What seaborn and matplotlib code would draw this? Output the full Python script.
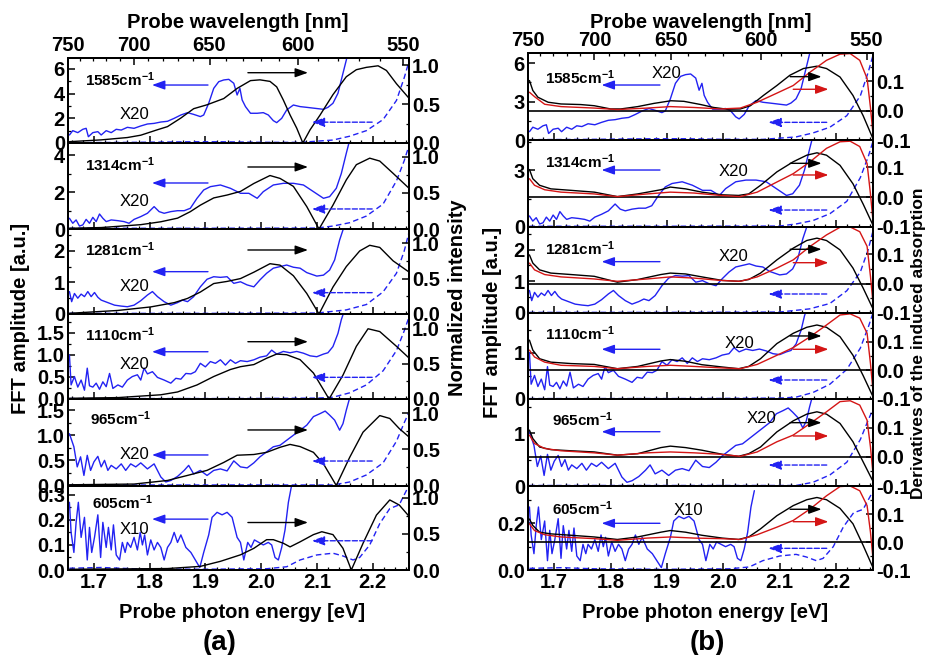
import numpy as np
import matplotlib
matplotlib.use("Agg")
import matplotlib.pyplot as plt
import seaborn as sns
from matplotlib.ticker import FixedLocator, MultipleLocator, FormatStrFormatter

# ---------------------------------------------------------------- data
MODES = ["1585", "1314", "1281", "1110", "965", "605"]
SCALE_TEXT = ["X20", "X20", "X20", "X20", "X20", "X10"]

# FFT amplitude (magnified x20 / x10), probe photon energy in eV
FFT_E_1585 = [1.656, 1.662, 1.671, 1.680, 1.686, 1.690, 1.698, 1.707, 1.713, 1.722,
              1.731, 1.740, 1.749, 1.760, 1.772, 1.784, 1.796, 1.808, 1.820, 1.832,
              1.844, 1.856, 1.868, 1.879, 1.891, 1.897, 1.906, 1.915, 1.924, 1.933,
              1.942, 1.951, 1.957, 1.962, 1.966, 1.972, 1.981, 1.993, 2.004, 2.013,
              2.022, 2.028, 2.037, 2.046, 2.058, 2.070, 2.082, 2.097, 2.112, 2.120,
              2.129, 2.138, 2.147, 2.156]
FFT_V_1585 = [0.65, 1.00, 0.84, 1.11, 1.19, 0.51, 0.84, 0.92, 0.65, 1.00,
              0.84, 1.11, 1.05, 1.27, 1.19, 1.38, 1.54, 1.59, 1.70, 1.76,
              2.00, 2.27, 2.46, 2.32, 2.14, 2.27, 3.22, 4.43, 4.97, 5.11,
              5.16, 4.84, 3.89, 4.43, 3.49, 2.95, 2.41, 2.41, 2.46, 2.27,
              1.81, 1.65, 2.00, 2.68, 3.08, 2.95, 2.89, 2.81, 2.73, 2.89,
              3.22, 4.03, 5.65, 7.27]

FFT_E_1314 = [1.656, 1.662, 1.668, 1.674, 1.680, 1.686, 1.692, 1.698, 1.704, 1.710,
              1.716, 1.722, 1.731, 1.743, 1.754, 1.763, 1.772, 1.784, 1.796, 1.808,
              1.817, 1.826, 1.838, 1.850, 1.862, 1.873, 1.885, 1.897, 1.909, 1.927,
              1.945, 1.963, 1.978, 1.993, 2.004, 2.022, 2.040, 2.058, 2.076, 2.094,
              2.112, 2.123, 2.135, 2.144, 2.153, 2.159]
FFT_V_1314 = [0.58, 0.31, 0.49, 0.16, 0.22, 0.52, 0.31, 0.63, 0.40, 0.81,
              0.58, 0.40, 0.49, 0.45, 0.40, 0.31, 0.52, 0.67, 0.85, 1.21,
              0.94, 0.85, 0.94, 0.99, 0.99, 1.12, 1.66, 2.11, 2.29, 2.38,
              2.20, 1.93, 1.93, 1.66, 2.02, 2.38, 2.47, 2.47, 2.38, 2.02,
              1.66, 1.75, 2.20, 3.00, 4.10, 4.80]

FFT_E_1281 = [1.656, 1.660, 1.665, 1.671, 1.677, 1.683, 1.689, 1.695, 1.701, 1.707,
              1.713, 1.725, 1.737, 1.749, 1.760, 1.772, 1.784, 1.796, 1.805, 1.814,
              1.826, 1.838, 1.850, 1.859, 1.868, 1.879, 1.891, 1.903, 1.915, 1.927,
              1.939, 1.951, 1.963, 1.975, 1.987, 1.998, 2.010, 2.022, 2.034, 2.046,
              2.058, 2.070, 2.082, 2.100, 2.112, 2.123, 2.132, 2.141, 2.150]
FFT_V_1281 = [0.71, 0.39, 0.65, 0.50, 0.63, 0.55, 0.71, 0.55, 0.68, 0.53,
              0.44, 0.36, 0.28, 0.25, 0.23, 0.28, 0.42, 0.60, 0.71, 0.55,
              0.39, 0.28, 0.36, 0.44, 0.39, 0.55, 0.86, 1.10, 1.18, 1.16,
              1.18, 0.97, 1.02, 0.92, 0.86, 1.08, 1.29, 1.45, 1.50, 1.55,
              1.48, 1.45, 1.31, 1.20, 1.23, 1.39, 1.71, 2.34, 2.82]

FFT_E_1110 = [1.656, 1.659, 1.665, 1.671, 1.677, 1.683, 1.688, 1.692, 1.698, 1.704,
              1.710, 1.716, 1.722, 1.728, 1.734, 1.743, 1.751, 1.760, 1.769, 1.778,
              1.784, 1.790, 1.796, 1.805, 1.814, 1.826, 1.838, 1.847, 1.856, 1.865,
              1.874, 1.882, 1.891, 1.900, 1.909, 1.918, 1.927, 1.936, 1.945, 1.954,
              1.963, 1.975, 1.987, 1.998, 2.010, 2.019, 2.028, 2.040, 2.052, 2.064,
              2.076, 2.088, 2.100, 2.112, 2.120, 2.129, 2.138, 2.144, 2.148]
FFT_V_1110 = [1.00, 0.32, 0.51, 0.27, 0.43, 0.20, 0.70, 0.30, 0.27, 0.36,
              0.22, 0.39, 0.28, 0.58, 0.24, 0.32, 0.27, 0.43, 0.51, 0.55,
              0.43, 0.70, 0.57, 0.62, 0.49, 0.43, 0.36, 0.47, 0.45, 0.58,
              0.57, 0.62, 0.81, 0.73, 0.85, 0.81, 0.89, 0.77, 0.89, 0.81,
              0.87, 0.85, 0.89, 0.95, 0.98, 1.11, 1.02, 1.08, 1.05, 1.08,
              1.04, 0.98, 0.96, 1.02, 1.05, 1.19, 1.49, 1.80, 1.95]

FFT_E_965 = [1.656, 1.664, 1.670, 1.676, 1.682, 1.688, 1.694, 1.700, 1.707, 1.713,
             1.719, 1.725, 1.731, 1.740, 1.749, 1.757, 1.766, 1.775, 1.784, 1.796,
             1.808, 1.820, 1.829, 1.838, 1.850, 1.862, 1.870, 1.879, 1.891, 1.903,
             1.915, 1.927, 1.939, 1.951, 1.963, 1.975, 1.987, 1.998, 2.010, 2.022,
             2.034, 2.046, 2.058, 2.070, 2.082, 2.094, 2.106, 2.115, 2.123, 2.132,
             2.141, 2.147, 2.153, 2.158]
FFT_V_965 = [1.03, 0.77, 0.37, 0.57, 0.20, 0.60, 0.30, 0.47, 0.58, 0.37,
             0.50, 0.30, 0.40, 0.33, 0.43, 0.30, 0.43, 0.37, 0.45, 0.33,
             0.43, 0.17, 0.07, 0.10, 0.18, 0.30, 0.40, 0.23, 0.30, 0.20,
             0.30, 0.33, 0.29, 0.49, 0.37, 0.35, 0.45, 0.57, 0.67, 0.77,
             0.80, 0.90, 1.00, 1.10, 1.20, 1.37, 1.43, 1.48, 1.40, 1.30,
             1.10, 1.23, 1.50, 1.70]

FFT_E_605 = [1.656, 1.659, 1.664, 1.668, 1.672, 1.677, 1.683, 1.688, 1.692, 1.696,
             1.701, 1.707, 1.712, 1.716, 1.722, 1.726, 1.731, 1.735, 1.740, 1.746,
             1.751, 1.756, 1.760, 1.766, 1.772, 1.778, 1.783, 1.787, 1.791, 1.796,
             1.802, 1.808, 1.814, 1.820, 1.826, 1.832, 1.838, 1.844, 1.850, 1.856,
             1.865, 1.874, 1.882, 1.890, 1.897, 1.906, 1.912, 1.921, 1.930, 1.939,
             1.948, 1.957, 1.963, 1.969, 1.976, 1.982, 1.988, 1.996, 2.004, 2.013,
             2.019, 2.025, 2.031, 2.037, 2.043, 2.049, 2.055]
FFT_V_605 = [0.27, 0.15, 0.07, 0.19, 0.27, 0.13, 0.21, 0.04, 0.17, 0.07,
             0.13, 0.22, 0.05, 0.19, 0.09, 0.17, 0.08, 0.18, 0.06, 0.04,
             0.11, 0.07, 0.11, 0.09, 0.13, 0.08, 0.15, 0.10, 0.14, 0.06,
             0.12, 0.08, 0.11, 0.09, 0.04, 0.09, 0.11, 0.15, 0.11, 0.14,
             0.09, 0.07, 0.04, 0.01, 0.07, 0.14, 0.21, 0.23, 0.22, 0.23,
             0.21, 0.13, 0.11, 0.04, 0.11, 0.09, 0.12, 0.11, 0.10, 0.11,
             0.10, 0.05, 0.04, 0.09, 0.16, 0.27, 0.34]

# FFT amplitude, unscaled (dashed)
RAW_E_1585 = [1.656, 1.760, 1.880, 1.930, 1.990, 2.070, 2.129, 2.159, 2.189, 2.219, 2.243, 2.257, 2.266]
RAW_V_1585 = [0.03, 0.05, 0.10, 0.10, 0.06, 0.05, 0.24, 0.55, 1.00, 1.90, 3.45, 5.30, 6.70]
RAW_E_1314 = [1.656, 1.900, 2.100, 2.129, 2.159, 2.189, 2.219, 2.243, 2.257, 2.266]
RAW_V_1314 = [0.04, 0.04, 0.05, 0.16, 0.34, 0.70, 1.35, 2.60, 3.70, 4.56]
RAW_E_1281 = [1.656, 1.900, 2.100, 2.153, 2.189, 2.219, 2.243, 2.257, 2.266]
RAW_V_1281 = [0.02, 0.02, 0.03, 0.13, 0.30, 0.70, 1.29, 2.00, 2.62]
RAW_E_1110 = [1.656, 1.950, 2.100, 2.129, 2.159, 2.189, 2.219, 2.243, 2.257, 2.266]
RAW_V_1110 = [0.01, 0.01, 0.02, 0.04, 0.14, 0.32, 0.64, 1.10, 1.55, 1.88]
RAW_E_965 = [1.656, 2.000, 2.129, 2.159, 2.189, 2.219, 2.243, 2.257, 2.266]
RAW_V_965 = [0.01, 0.01, 0.01, 0.07, 0.21, 0.45, 0.88, 1.25, 1.47]
RAW_E_605 = [1.656, 1.713, 1.772, 1.891, 2.010, 2.046, 2.070, 2.100, 2.129, 2.147,
             2.165, 2.177, 2.195, 2.213, 2.231, 2.248, 2.266]
RAW_V_605 = [0.007, 0.010, 0.005, 0.003, 0.005, 0.013, 0.040, 0.060, 0.067, 0.056,
             0.040, 0.050, 0.100, 0.185, 0.245, 0.260, 0.340]

# normalized intensity (panel a, right axis)
INT_E_1585 = [1.656, 1.713, 1.760, 1.784, 1.814, 1.832, 1.856, 1.879, 1.903, 1.933,
              1.957, 1.981, 1.998, 2.016, 2.028, 2.040, 2.052, 2.064, 2.075, 2.088,
              2.106, 2.129, 2.153, 2.171, 2.189, 2.210, 2.225, 2.243, 2.266]
INT_V_1585 = [0.017, 0.04, 0.07, 0.10, 0.17, 0.21, 0.32, 0.44, 0.49, 0.57,
              0.70, 0.80, 0.81, 0.79, 0.72, 0.55, 0.36, 0.19, 0.0, 0.17,
              0.36, 0.62, 0.85, 0.94, 0.97, 0.99, 0.93, 0.76, 0.57]
INT_E_1314 = [1.656, 1.713, 1.784, 1.820, 1.850, 1.873, 1.891, 1.915, 1.939, 1.963,
              1.987, 2.016, 2.034, 2.058, 2.082, 2.104, 2.129, 2.153, 2.171, 2.195,
              2.213, 2.237, 2.266]
INT_V_1314 = [0.01, 0.02, 0.06, 0.10, 0.15, 0.24, 0.33, 0.43, 0.47, 0.52,
              0.63, 0.74, 0.70, 0.59, 0.31, 0.0, 0.33, 0.68, 0.89, 0.98,
              0.94, 0.77, 0.56]
INT_E_1281 = [1.656, 1.743, 1.802, 1.844, 1.868, 1.891, 1.915, 1.939, 1.963, 1.987,
              2.016, 2.034, 2.058, 2.082, 2.104, 2.129, 2.153, 2.177, 2.195, 2.213,
              2.237, 2.266]
INT_V_1281 = [0.01, 0.05, 0.10, 0.16, 0.22, 0.31, 0.43, 0.46, 0.50, 0.59,
              0.71, 0.69, 0.54, 0.29, 0.0, 0.38, 0.67, 0.89, 0.97, 0.94,
              0.75, 0.59]
INT_E_1110 = [1.656, 1.743, 1.820, 1.850, 1.885, 1.915, 1.945, 1.963, 1.987, 2.010,
              2.028, 2.046, 2.070, 2.094, 2.122, 2.147, 2.171, 2.192, 2.213, 2.243,
              2.266]
INT_V_1110 = [0.01, 0.02, 0.06, 0.10, 0.20, 0.32, 0.42, 0.46, 0.49, 0.58,
              0.64, 0.63, 0.56, 0.37, 0.0, 0.34, 0.75, 1.0, 0.96, 0.75,
              0.58]
INT_E_965 = [1.656, 1.772, 1.832, 1.868, 1.903, 1.933, 1.957, 1.987, 2.010, 2.034,
             2.052, 2.070, 2.094, 2.112, 2.135, 2.159, 2.183, 2.213, 2.231, 2.248,
             2.266]
INT_V_965 = [0.01, 0.02, 0.07, 0.14, 0.21, 0.32, 0.42, 0.43, 0.46, 0.53,
             0.57, 0.54, 0.46, 0.30, 0.0, 0.39, 0.74, 0.97, 0.93, 0.79,
             0.67]
INT_E_605 = [1.656, 1.832, 1.891, 1.927, 1.963, 1.987, 2.010, 2.022, 2.040, 2.052,
             2.070, 2.094, 2.109, 2.129, 2.147, 2.162, 2.183, 2.207, 2.231, 2.248,
             2.266]
INT_V_605 = [0.01, 0.02, 0.05, 0.12, 0.21, 0.30, 0.42, 0.42, 0.37, 0.32,
             0.39, 0.49, 0.53, 0.49, 0.30, 0.0, 0.37, 0.76, 0.97, 0.90,
             0.74]

# derivatives of the induced absorption (panel b, right axis)
D1_E_1585 = [1.656, 1.662, 1.671, 1.689, 1.712, 1.747, 1.771, 1.800, 1.818, 1.848,
             1.877, 1.907, 1.930, 1.960, 1.983, 2.007, 2.030, 2.048, 2.071, 2.095,
             2.118, 2.142, 2.166, 2.183, 2.207, 2.230, 2.248, 2.266]
D1_V_1585 = [0.103, 0.069, 0.046, 0.029, 0.023, 0.021, 0.017, 0.006, 0.006, 0.014,
             0.025, 0.034, 0.032, 0.021, 0.011, 0.005, 0.006, 0.017, 0.052, 0.086,
             0.121, 0.144, 0.152, 0.144, 0.115, 0.052, -0.017, -0.098]
D1_E = [1.656, 1.662, 1.674, 1.694, 1.730, 1.771, 1.812, 1.848, 1.889, 1.906,
        1.933, 1.962, 1.998, 2.027, 2.045, 2.066, 2.095, 2.124, 2.148, 2.166,
        2.183, 2.207, 2.230, 2.248, 2.266]
D1_V_1314 = [0.093, 0.062, 0.040, 0.028, 0.023, 0.017, 0.002, 0.011, 0.025, 0.034,
             0.028, 0.017, 0.008, 0.006, 0.011, 0.040, 0.085, 0.119, 0.141, 0.149,
             0.141, 0.107, 0.045, -0.023, -0.096]
D1_V_1281 = [0.098, 0.070, 0.047, 0.036, 0.031, 0.025, 0.005, 0.014, 0.031, 0.036,
             0.033, 0.023, 0.011, 0.008, 0.014, 0.036, 0.081, 0.121, 0.147, 0.155,
             0.147, 0.115, 0.053, -0.015, -0.088]
D1_V_1110 = [0.106, 0.071, 0.041, 0.029, 0.024, 0.021, 0.006, 0.014, 0.033, 0.038,
             0.032, 0.020, 0.012, 0.006, 0.014, 0.041, 0.094, 0.130, 0.151, 0.159,
             0.151, 0.118, 0.053, -0.018, -0.094]
D1_V_965 = [0.092, 0.063, 0.034, 0.025, 0.021, 0.017, 0.006, 0.011, 0.032, 0.037,
            0.032, 0.023, 0.009, 0.002, 0.011, 0.034, 0.086, 0.124, 0.147, 0.155,
            0.147, 0.115, 0.052, -0.017, -0.086]
D1_V_605 = [0.082, 0.059, 0.035, 0.029, 0.024, 0.018, 0.009, 0.018, 0.035, 0.041,
            0.035, 0.024, 0.014, 0.009, 0.018, 0.047, 0.094, 0.130, 0.151, 0.159,
            0.151, 0.120, 0.065, -0.012, -0.094]

D2_E = [1.656, 1.665, 1.683, 1.712, 1.771, 1.812, 1.865, 1.906, 1.948, 1.995,
        2.030, 2.060, 2.095, 2.124, 2.154, 2.183, 2.207, 2.225, 2.242, 2.255,
        2.261, 2.266]
D2_V_1585 = [0.063, 0.048, 0.022, 0.014, 0.009, 0.004, 0.009, 0.014, 0.011, 0.006,
             0.009, 0.029, 0.060, 0.086, 0.132, 0.172, 0.193, 0.195, 0.172, 0.110,
             0.011, -0.090]
D2_V_1314 = [0.062, 0.040, 0.025, 0.017, 0.011, 0.002, 0.011, 0.017, 0.014, 0.006,
             0.002, 0.017, 0.051, 0.079, 0.119, 0.164, 0.186, 0.188, 0.170, 0.113,
             0.011, -0.090]
D2_V_1281 = [0.070, 0.047, 0.031, 0.023, 0.016, 0.008, 0.016, 0.023, 0.019, 0.011,
             0.008, 0.023, 0.053, 0.081, 0.127, 0.166, 0.192, 0.193, 0.177, 0.127,
             0.025, -0.077]
D2_V_1110 = [0.071, 0.047, 0.029, 0.018, 0.014, 0.006, 0.014, 0.018, 0.014, 0.009,
             0.006, 0.021, 0.053, 0.080, 0.118, 0.159, 0.194, 0.198, 0.183, 0.130,
             0.024, -0.082]
D2_V_965 = [0.075, 0.046, 0.029, 0.021, 0.014, 0.006, 0.014, 0.017, 0.014, 0.009,
            0.002, 0.017, 0.052, 0.075, 0.115, 0.155, 0.190, 0.193, 0.178, 0.126,
            0.034, -0.069]
D2_V_605 = [0.065, 0.041, 0.026, 0.018, 0.012, 0.006, 0.014, 0.018, 0.014, 0.012,
            0.009, 0.026, 0.053, 0.077, 0.118, 0.165, 0.198, 0.200, 0.183, 0.130,
            0.035, -0.071]

FFT = {"1585": (FFT_E_1585, FFT_V_1585), "1314": (FFT_E_1314, FFT_V_1314),
       "1281": (FFT_E_1281, FFT_V_1281), "1110": (FFT_E_1110, FFT_V_1110),
       "965": (FFT_E_965, FFT_V_965), "605": (FFT_E_605, FFT_V_605)}
RAW = {"1585": (RAW_E_1585, RAW_V_1585), "1314": (RAW_E_1314, RAW_V_1314),
       "1281": (RAW_E_1281, RAW_V_1281), "1110": (RAW_E_1110, RAW_V_1110),
       "965": (RAW_E_965, RAW_V_965), "605": (RAW_E_605, RAW_V_605)}
INT = {"1585": (INT_E_1585, INT_V_1585), "1314": (INT_E_1314, INT_V_1314),
       "1281": (INT_E_1281, INT_V_1281), "1110": (INT_E_1110, INT_V_1110),
       "965": (INT_E_965, INT_V_965), "605": (INT_E_605, INT_V_605)}
D1 = {"1585": (D1_E_1585, D1_V_1585), "1314": (D1_E, D1_V_1314),
      "1281": (D1_E, D1_V_1281), "1110": (D1_E, D1_V_1110),
      "965": (D1_E, D1_V_965), "605": (D1_E, D1_V_605)}
D2 = {"1585": (D2_E, D2_V_1585), "1314": (D2_E, D2_V_1314),
      "1281": (D2_E, D2_V_1281), "1110": (D2_E, D2_V_1110),
      "965": (D2_E, D2_V_965), "605": (D2_E, D2_V_605)}

# axis ranges / ticks
E_RANGE = (1.6529, 2.2655)
A_LEFT_TOP = [6.89, 4.65, 2.69, 1.93, 1.72, 0.337]
A_RIGHT_TOP = [1.09, 1.19, 1.20, 1.21, 1.20, 1.17]
A_LEFT_TICKS = [[0, 2, 4, 6], [0, 2, 4], [0, 1, 2], [0, 0.5, 1.0, 1.5], [0, 0.5, 1.0, 1.5], [0, 0.1, 0.2, 0.3]]
A_LEFT_MINOR = [1, 1, 0.5, 0.25, 0.25, 0.05]
A_LEFT_FMT = ["%d", "%d", "%d", "%.1f", "%.1f", "%.1f"]
B_LEFT_TOP = [6.8, 4.58, 2.71, 1.86, 1.65, 0.36]
B_RIGHT_TOP = [0.197, 0.192, 0.193, 0.201, 0.199, 0.200]
B_LEFT_TICKS = [[0, 3, 6], [0, 3], [0, 1, 2], [0, 1], [0, 1], [0, 0.2]]
B_LEFT_MINOR = [1.5, 1.5, 0.5, 0.5, 0.5, 0.1]
B_LEFT_FMT = ["%d", "%d", "%d", "%d", "%d", "%.1f"]
WAVELENGTH_TICKS = [750, 700, 650, 600, 550]

# ---------------------------------------------------------------- style
sns.set_theme(style="ticks")
plt.rcParams["font.family"] = ["Liberation Sans", "DejaVu Sans"]
plt.rcParams.update({
    "font.weight": "bold",
    "mathtext.fontset": "custom",
    "mathtext.rm": "Liberation Sans:bold",
    "mathtext.it": "Liberation Sans:bold",
    "mathtext.bf": "Liberation Sans:bold",
    "text.color": "black",
    "axes.labelcolor": "black",
    "axes.edgecolor": "black",
    "axes.linewidth": 1.4,
    "xtick.color": "black",
    "ytick.color": "black",
    "xtick.labelsize": 14.5,
    "ytick.labelsize": 14.5,
    "xtick.direction": "in",
    "ytick.direction": "in",
    "xtick.major.size": 5, "ytick.major.size": 5,
    "xtick.minor.size": 2.5, "ytick.minor.size": 2.5,
    "xtick.major.width": 1.1, "ytick.major.width": 1.1,
    "xtick.minor.width": 0.9, "ytick.minor.width": 0.9,
    "xtick.major.pad": 2.0, "ytick.major.pad": 2.0,
})

BLUE = "#2222f2"
RED = "#d41515"
DASH = (0, (4, 2.4))

W, H = 928, 655
fig = plt.figure(figsize=(W / 100, H / 100), dpi=100)


def add_ax(x0, x1, y0, y1):
    return fig.add_axes([x0 / W, 1 - y1 / H, (x1 - x0) / W, (y1 - y0) / H])


def curve(ax, data, color, style="-", lw=1.0):
    e, v = data
    sns.lineplot(x=e, y=v, ax=ax, color=color, linewidth=lw, linestyle=style,
                 estimator=None, sort=False, legend=False)
    ax.set_xlabel("")
    ax.set_ylabel("")


def harrow(ax, x_tail, x_head, y, color, dashed=False):
    ax.annotate("", xy=(x_head, y), xytext=(x_tail, y),
                xycoords="axes fraction", textcoords="axes fraction",
                arrowprops=dict(arrowstyle="-|>,head_length=0.7,head_width=0.25",
                                color=color, lw=1.0, mutation_scale=11,
                                linestyle="--" if dashed else "-",
                                shrinkA=0, shrinkB=0))


def wl(e):
    e = np.asarray(e, dtype=float)
    with np.errstate(divide="ignore"):
        return 1239.84 / e


def style_x(ax, first, last):
    ax.set_xlim(*E_RANGE)
    ax.xaxis.set_major_locator(MultipleLocator(0.1))
    ax.xaxis.set_minor_locator(MultipleLocator(0.02))
    ax.xaxis.set_major_formatter(FormatStrFormatter("%.1f"))
    ax.tick_params(axis="x", which="both", bottom=True, top=False, labelbottom=last)
    if first:
        sec = ax.secondary_xaxis("top", functions=(wl, wl))
        sec.set_xticks(WAVELENGTH_TICKS)
        sec.xaxis.set_minor_locator(FixedLocator(list(range(550, 760, 10))))
        sec.tick_params(axis="x", which="both", direction="in", pad=2)
        sec.tick_params(axis="x", which="major", length=5, width=1.1)
        sec.tick_params(axis="x", which="minor", length=2.5, width=0.9)


# layout in pixels
A_X = (67.7, 409.0)
A_Y = [58, 143, 229, 314, 399, 485.5, 570]
B_X = (527.7, 873.0)
B_Y = [53, 140, 227, 313, 399, 486, 570]

# annotation placement (axes fractions)
A_LABEL = [(0.051, 0.741), (0.051, 0.744), (0.051, 0.753), (0.051, 0.753), (0.065, 0.777), (0.071, 0.792)]
A_BLUE_Y = [0.682, 0.535, 0.498, 0.556, 0.353, 0.602]
A_BLACK_Y = [0.827, 0.721, 0.753, 0.674, 0.642, 0.562]
A_DASH_Y = [0.245, 0.233, 0.251, 0.255, 0.283, 0.346]
A_SCALE = [(0.153, 0.335), (0.153, 0.317), (0.153, 0.321), (0.153, 0.40), (0.153, 0.353), (0.153, 0.476)]

B_LABEL = [(0.05, 0.721), (0.05, 0.751), (0.05, 0.752), (0.05, 0.764), (0.07, 0.767), (0.07, 0.735)]
B_BLUE_Y = [0.632, 0.655, 0.597, 0.578, 0.624, 0.556]
B_BLACK_Y = [0.728, 0.732, 0.741, 0.733, 0.728, 0.723]
B_RED_Y = [0.583, 0.598, 0.585, 0.578, 0.575, 0.575]
B_DASH_Y = [0.203, 0.195, 0.221, 0.221, 0.241, 0.258]
B_SCALE = [(0.359, 0.767), (0.552, 0.636), (0.552, 0.655), (0.571, 0.648), (0.634, 0.778), (0.422, 0.714)]

# ---------------------------------------------------------------- panel (a)
for i, mode in enumerate(MODES):
    ax = add_ax(A_X[0], A_X[1], A_Y[i], A_Y[i + 1])
    curve(ax, FFT[mode], BLUE, "-", 1.0)
    curve(ax, RAW[mode], BLUE, DASH, 1.0)
    ax.set_ylim(0, A_LEFT_TOP[i])
    ax.yaxis.set_major_locator(FixedLocator(A_LEFT_TICKS[i]))
    ax.yaxis.set_minor_locator(MultipleLocator(A_LEFT_MINOR[i]))
    ax.yaxis.set_major_formatter(FormatStrFormatter(A_LEFT_FMT[i]))
    style_x(ax, i == 0, i == len(MODES) - 1)

    axr = ax.twinx()
    curve(axr, INT[mode], "black", "-", 1.0)
    axr.set_ylim(0, A_RIGHT_TOP[i])
    axr.yaxis.set_major_locator(FixedLocator([0.0, 0.5, 1.0]))
    axr.yaxis.set_minor_locator(FixedLocator([0.25, 0.75]))
    axr.yaxis.set_major_formatter(FormatStrFormatter("%.1f"))
    axr.set_xlim(*E_RANGE)
    for s in axr.spines.values():
        s.set_linewidth(1.4)

    lx, ly = A_LABEL[i]
    ax.text(lx, ly, f"{mode}cm$^{{-1}}$", transform=ax.transAxes, fontsize=11,
            fontweight="bold", ha="left", va="center")
    sx, sy = A_SCALE[i]
    ax.text(sx, sy, SCALE_TEXT[i], transform=ax.transAxes, fontsize=12,
            fontweight="normal", ha="left", va="center")
    harrow(axr, 0.411, 0.247, A_BLUE_Y[i], BLUE)
    harrow(axr, 0.528, 0.704, A_BLACK_Y[i], "black")
    harrow(axr, 0.892, 0.715, A_DASH_Y[i], BLUE, dashed=True)

# ---------------------------------------------------------------- panel (b)
for i, mode in enumerate(MODES):
    ax = add_ax(B_X[0], B_X[1], B_Y[i], B_Y[i + 1])
    curve(ax, FFT[mode], BLUE, "-", 1.0)
    curve(ax, RAW[mode], BLUE, DASH, 1.0)
    ax.set_ylim(0, B_LEFT_TOP[i])
    ax.yaxis.set_major_locator(FixedLocator(B_LEFT_TICKS[i]))
    ax.yaxis.set_minor_locator(MultipleLocator(B_LEFT_MINOR[i]))
    ax.yaxis.set_major_formatter(FormatStrFormatter(B_LEFT_FMT[i]))
    style_x(ax, i == 0, i == len(MODES) - 1)

    axr = ax.twinx()
    axr.axhline(0.0, color="black", lw=1.2)
    curve(axr, D1[mode], "black", "-", 1.0)
    curve(axr, D2[mode], RED, "-", 1.0)
    axr.set_ylim(-0.1, B_RIGHT_TOP[i])
    axr.yaxis.set_major_locator(FixedLocator([-0.1, 0.0, 0.1]))
    axr.yaxis.set_minor_locator(FixedLocator([-0.05, 0.05, 0.15]))
    axr.yaxis.set_major_formatter(FormatStrFormatter("%.1f"))
    axr.set_xlim(*E_RANGE)
    for s in axr.spines.values():
        s.set_linewidth(1.4)

    lx, ly = B_LABEL[i]
    ax.text(lx, ly, f"{mode}cm$^{{-1}}$", transform=ax.transAxes, fontsize=11,
            fontweight="bold", ha="left", va="center")
    sx, sy = B_SCALE[i]
    ax.text(sx, sy, SCALE_TEXT[i], transform=ax.transAxes, fontsize=12,
            fontweight="normal", ha="left", va="center")
    harrow(axr, 0.383, 0.214, B_BLUE_Y[i], BLUE)
    harrow(axr, 0.760, 0.851, B_BLACK_Y[i], "black")
    harrow(axr, 0.769, 0.871, B_RED_Y[i], RED)
    harrow(axr, 0.866, 0.697, B_DASH_Y[i], BLUE, dashed=True)

# ---------------------------------------------------------------- figure labels
LBL = dict(fontsize=14.5, fontweight="bold", ha="center", va="center")
fig.text(238 / W, 1 - 23 / H, "Probe wavelength [nm]", **LBL)
fig.text(701 / W, 1 - 22 / H, "Probe wavelength [nm]", **LBL)
fig.text(242 / W, 1 - 612 / H, "Probe photon energy [eV]", **LBL)
fig.text(705 / W, 1 - 612 / H, "Probe photon energy [eV]", **LBL)
fig.text(21 / W, 1 - 318 / H, "FFT amplitude [a.u.]", rotation=90, **LBL)
fig.text(493 / W, 1 - 322 / H, "FFT amplitude [a.u.]", rotation=90, **LBL)
fig.text(458 / W, 1 - 298 / H, "Normalized intensity", rotation=90, **LBL)
fig.text(918.5 / W, 1 - 343 / H, "Derivatives of the induced absorption", rotation=90,
         fontsize=12.5, fontweight="bold", ha="center", va="center")
fig.text(220 / W, 1 - 643 / H, "(a)", fontsize=20, fontweight="bold", ha="center", va="center")
fig.text(707 / W, 1 - 643 / H, "(b)", fontsize=20, fontweight="bold", ha="center", va="center")

fig.savefig("out.png", dpi=100)
